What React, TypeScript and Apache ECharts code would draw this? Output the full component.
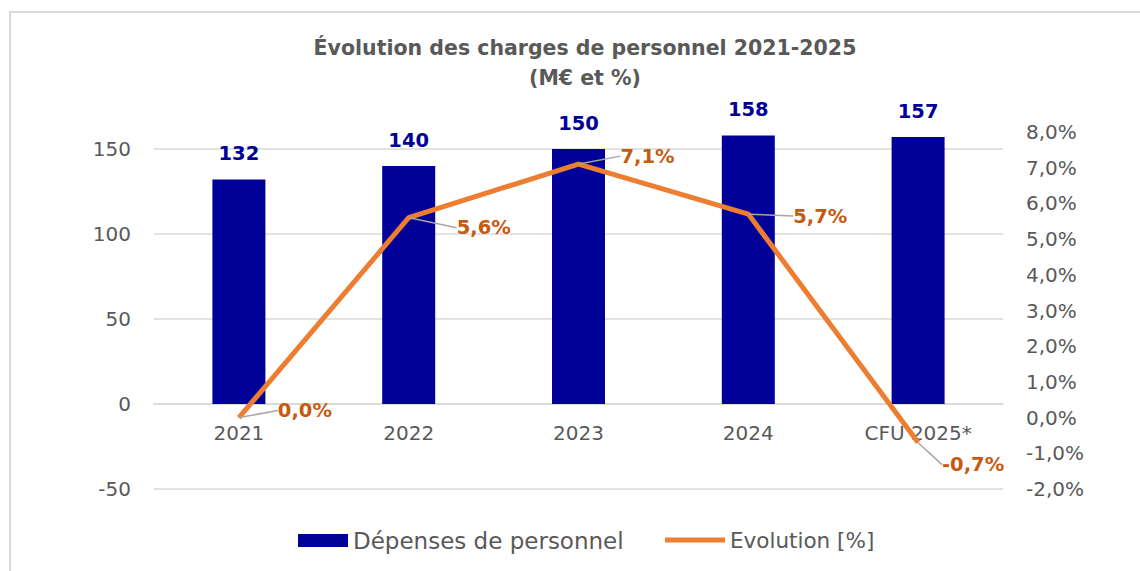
import React, { useEffect, useRef } from 'react';
import * as echarts from 'echarts';

// ---- Data ----
const categories = ['2021', '2022', '2023', '2024', 'CFU 2025*'];
const depenses = [132, 140, 150, 158, 157]; // M€
const evolution = [0.0, 5.6, 7.1, 5.7, -0.7]; // %
const titleLines = ['Évolution des charges de personnel 2021-2025', '(M€ et %)'];
const seriesNames = ['Dépenses de personnel', 'Evolution [%]'];

// ---- Styling (label placement offsets, px) ----
const evolutionLabelOffsets = [
  [66, -7],
  [75, 10],
  [69, -8],
  [72, 2],
  [55, 22],
];

const FONT = 'DejaVu Sans';
const GREY = '#595959';
const BLUE = '#000099';
const ORANGE = '#ED7D31';
const ORANGE_DARK = '#C55A11';

const fmtPct = (v: number) => v.toFixed(1).replace('.', ',') + '%';

export default function App() {
  const ref = useRef<HTMLDivElement>(null);

  useEffect(() => {
    if (!ref.current) return;
    const chart = echarts.init(ref.current, undefined, { renderer: 'svg' });
    const option: any = {
      animation: false,
      textStyle: { fontFamily: FONT },
      graphic: [
        {
          type: 'rect',
          silent: true,
          z: -10,
          shape: { x: 10, y: 12, width: 1200, height: 620 },
          style: { fill: 'none', stroke: '#D9D9D9', lineWidth: 2 },
        },
        {
          type: 'text',
          x: 585,
          y: 48,
          style: {
            text: titleLines[0],
            align: 'center',
            verticalAlign: 'middle',
            fontSize: 20.5,
            fontWeight: 'bold',
            fontFamily: FONT,
            fill: GREY,
          },
        },
        {
          type: 'text',
          x: 585,
          y: 78,
          style: {
            text: titleLines[1],
            align: 'center',
            verticalAlign: 'middle',
            fontSize: 20.5,
            fontWeight: 'bold',
            fontFamily: FONT,
            fill: GREY,
          },
        },
      ],
      legend: [
        {
          left: 298,
          top: 529,
          padding: 0,
          itemWidth: 50,
          itemHeight: 13,
          selectedMode: false,
          data: [{ name: seriesNames[0], icon: 'rect' }],
          textStyle: { color: GREY, fontSize: 23, fontFamily: FONT },
        },
        {
          left: 665,
          top: 529,
          padding: 0,
          itemWidth: 60,
          itemHeight: 5,
          selectedMode: false,
          data: [{ name: seriesNames[1], icon: 'path://M0,0 L60,0 L60,5 L0,5 Z' }],
          itemStyle: { color: ORANGE },
          textStyle: { color: GREY, fontSize: 21.5, fontFamily: FONT },
        },
      ],
      grid: { left: 154, right: 137, top: 132, bottom: 82 },
      xAxis: {
        type: 'category',
        data: categories,
        offset: -85,
        axisLine: { show: true, onZero: false, lineStyle: { color: '#D9D9D9', width: 1.5 } },
        axisTick: { show: false },
        axisLabel: { color: GREY, fontSize: 20, margin: 19, fontFamily: FONT },
      },
      yAxis: [
        {
          type: 'value',
          position: 'left',
          min: -50,
          max: 160,
          interval: 50,
          axisLine: { show: false },
          axisTick: { show: false },
          axisLabel: { color: GREY, fontSize: 20, margin: 23, showMaxLabel: false, fontFamily: FONT },
          splitLine: { show: true, showMaxLine: false, lineStyle: { color: '#D9D9D9', width: 1.5 } },
        },
        {
          type: 'value',
          position: 'right',
          min: -2,
          max: 8,
          interval: 1,
          axisLine: { show: false },
          axisTick: { show: false },
          axisLabel: { color: GREY, fontSize: 20, margin: 23, formatter: fmtPct, fontFamily: FONT },
          splitLine: { show: false },
        },
      ],
      series: [
        {
          name: seriesNames[0],
          type: 'bar',
          data: depenses,
          barWidth: 53,
          itemStyle: { color: BLUE },
          label: {
            show: true,
            position: 'top',
            distance: 16,
            color: BLUE,
            fontSize: 19.5,
            fontWeight: 'bold',
            fontFamily: FONT,
          },
        },
        {
          name: seriesNames[1],
          type: 'line',
          yAxisIndex: 1,
          data: evolution,
          symbol: 'circle',
          symbolSize: 1,
          z: 5,
          lineStyle: { color: ORANGE, width: 5 },
          itemStyle: { color: ORANGE },
          label: {
            show: true,
            position: 'inside',
            color: ORANGE_DARK,
            fontSize: 19.5,
            fontWeight: 'bold',
            fontFamily: FONT,
            formatter: (p: any) => fmtPct(p.value),
          },
          labelLayout: (p: any) => ({
            dx: evolutionLabelOffsets[p.dataIndex][0],
            dy: evolutionLabelOffsets[p.dataIndex][1],
          }),
          labelLine: { show: true, lineStyle: { color: '#A6A6A6', width: 1.5 } },
        },
      ],
    };
    chart.setOption(option);
    return () => chart.dispose();
  }, []);

  return (
    <div
      ref={ref}
      style={{ position: 'fixed', left: 0, top: 0, width: 1140, height: 571, background: '#fff' }}
    />
  );
}
